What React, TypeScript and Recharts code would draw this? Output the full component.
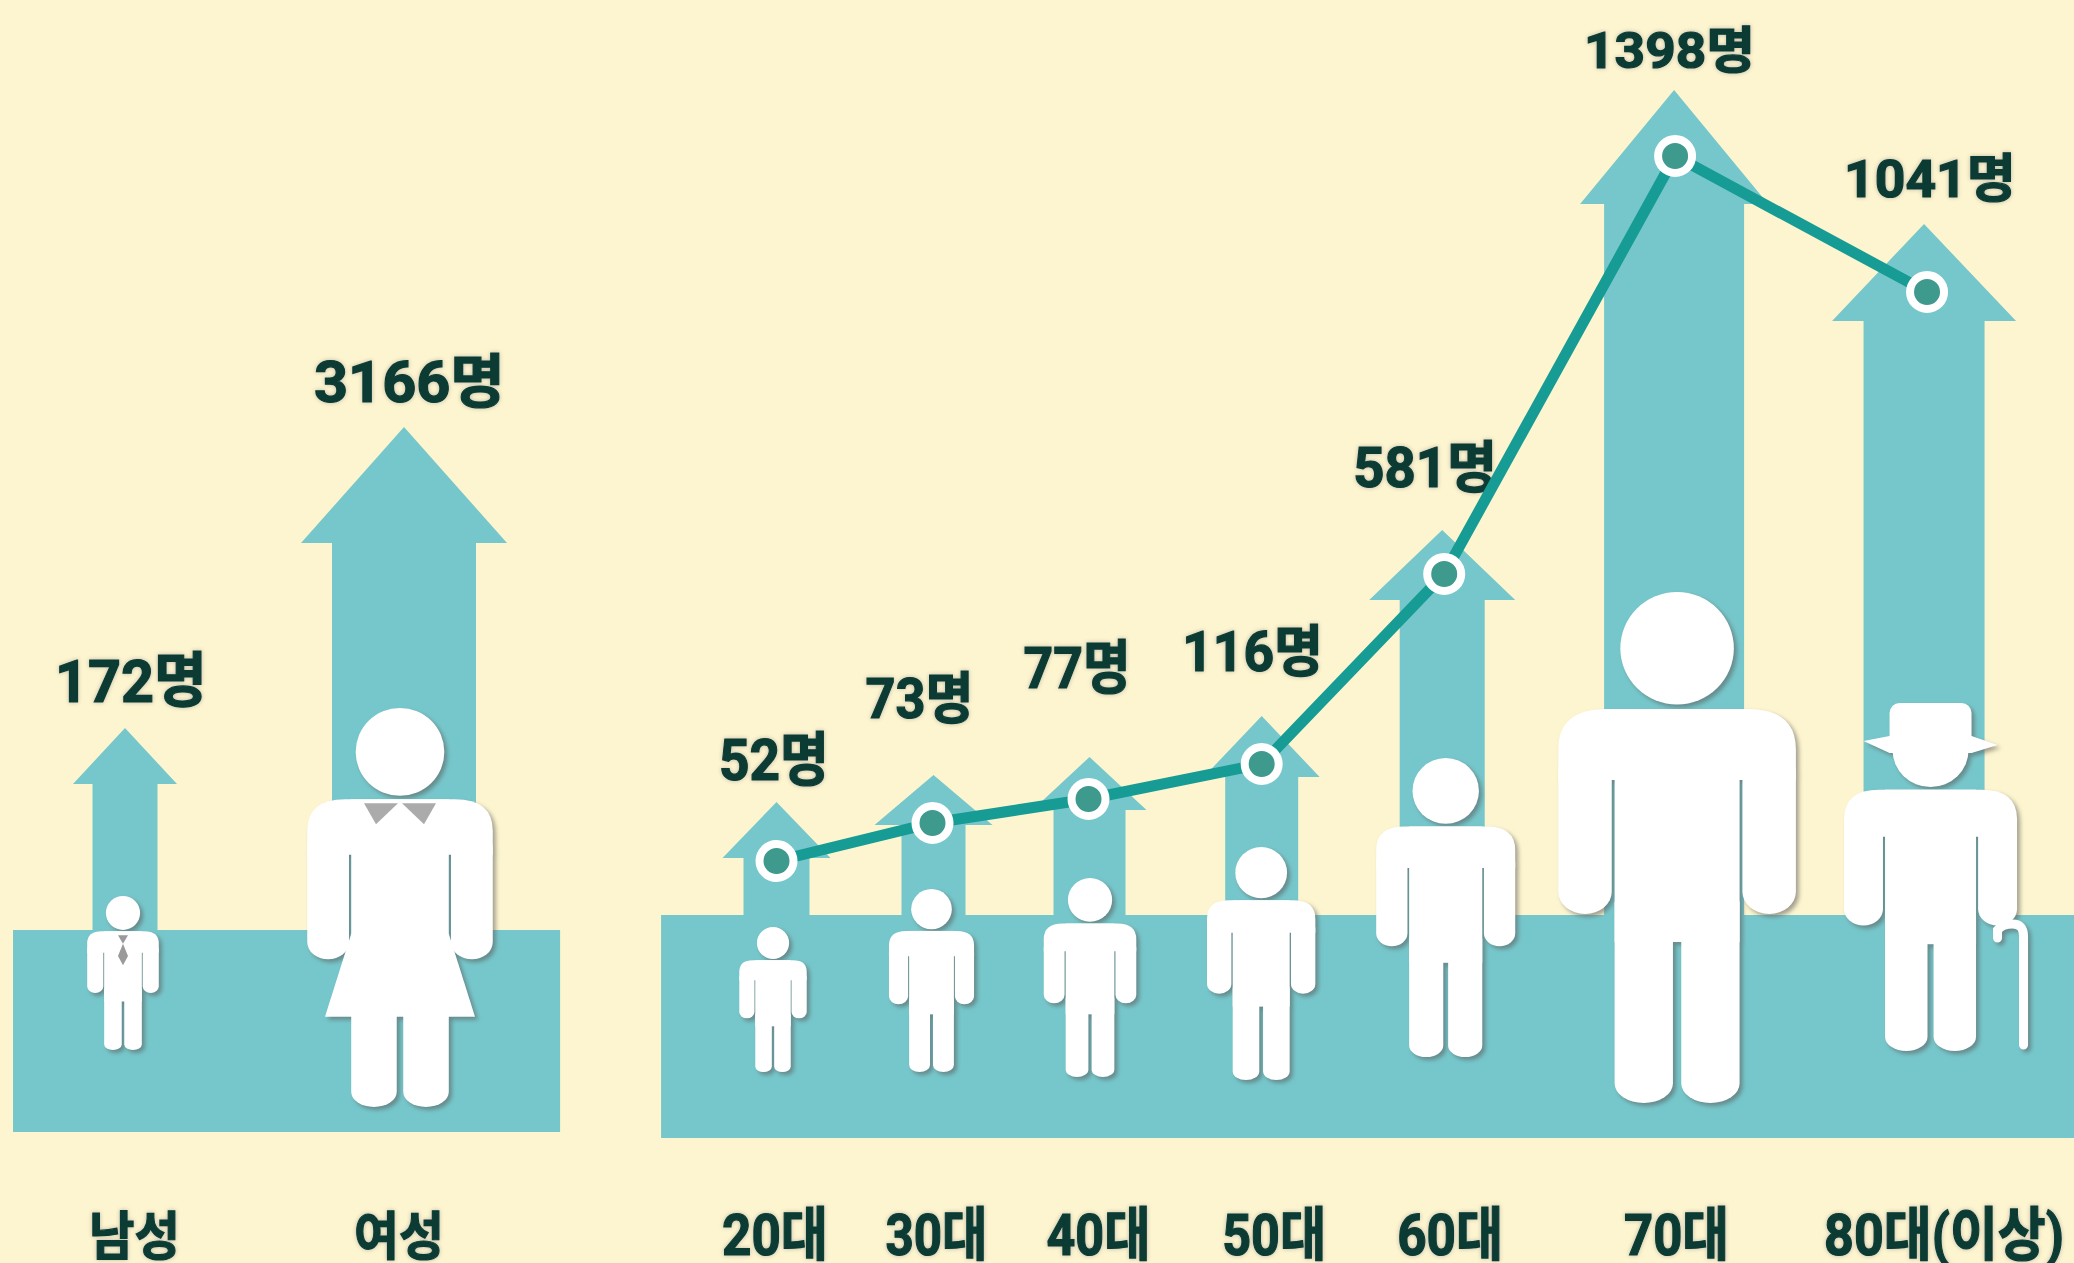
import React from "react";
import { ComposedChart, Line, XAxis, YAxis, ReferenceArea, LabelList } from "recharts";

// gender panel
const genderLabels = ["남성", "여성"];
const genderCounts = [172, 3166];
const genderSlot = [0, 1];
const genderArrowTop = [404, 705];
const genderFigureTop = [236, 424];

// age panel
const ageLabels = ["20대", "30대", "40대", "50대", "60대", "70대", "80대(이상)"];
const ageCounts = [52, 73, 77, 116, 581, 1398, 1041];
const ageSlot = [0, 1, 2, 3.11, 4.28, 5.76, 7.375];
// the pictogram is not drawn to scale, so these are heights read off the picture
const ageArrowTop = [336, 363, 381, 422, 608, 1048, 914];
const ageMarker = [277, 315, 339, 374, 564, 982, 846];
const ageFigureTop = [211, 249, 260, 291, 380, 546, 426];

const genderData = genderLabels.map((label, i) => ({
  label,
  count: genderCounts[i],
  slot: genderSlot[i],
  arrowTop: genderArrowTop[i],
  figureTop: genderFigureTop[i],
}));

const ageData = ageLabels.map((label, i) => ({
  label,
  count: ageCounts[i],
  slot: ageSlot[i],
  arrowTop: ageArrowTop[i],
  marker: ageMarker[i],
  figureTop: ageFigureTop[i],
}));

const BG = "#FDF5CF";
const TEAL = "#76C7CB";
const LINE = "#169C94";
const DOT = "#3F9A8E";
const INK = "#0B3B33";
const FONT = "Roboto, 'Noto Sans CJK KR', sans-serif";
const CHART_HEIGHT = 1263;
const TICK_BASELINE = 1255;
const AGE_AXIS_HEIGHT = 125;
const AGE_X_DOMAIN = [-0.875, 8.317];
const AGE_Y_DOMAIN = [0, 1138];

const GENDER_BAND = 202;
const AGE_BAND = 223;

// drawing styles, one per category
const genderArrowStyle = [
  { dx: 2, depth: 56, head: 52, shaft: 32.5 },
  { dx: 4, depth: 116, head: 103, shaft: 72 },
];
const ageArrowStyle = [
  { dx: 0, depth: 56, head: 54, shaft: 33 },
  { dx: 1, depth: 50, head: 59, shaft: 32 },
  { dx: 1, depth: 53, head: 57, shaft: 36 },
  { dx: 0, depth: 61, head: 58, shaft: 36.5 },
  { dx: -2, depth: 70, head: 73, shaft: 42.5 },
  { dx: -1, depth: 114, head: 94, shaft: 70 },
  { dx: -3, depth: 97, head: 92, shaft: 60.5 },
];

const genderFigureStyle = [
  { dx: 0, h: 154, kind: "man" },
  { dx: 0, h: 399, kind: "woman" },
];
const ageFigureStyle = [
  { dx: -3.5, h: 145, kind: "plain" },
  { dx: -1, h: 183, kind: "plain" },
  { dx: 1.5, h: 199, kind: "plain" },
  { dx: -0.5, h: 233, kind: "plain" },
  { dx: 1.5, h: 299, kind: "plain" },
  { dx: 2, h: 511, kind: "plain" },
  { dx: 3.5, h: 339, w: 173, kind: "elder" },
];

const genderLabelStyle = [
  { dx: 8, dy: -26, w: 152, size: 60 },
  { dx: 9.5, dy: -25, w: 191, size: 58 },
];
const ageLabelStyle = [
  { dx: -2.5, dy: -22, w: 110, size: 58 },
  { dx: -13, dy: -57, w: 108, size: 56 },
  { dx: -11.5, dy: -69, w: 107, size: 58 },
  { dx: -9, dy: -45, w: 141, size: 56 },
  { dx: -19, dy: -43, w: 144, size: 56 },
  { dx: -5.5, dy: -22, w: 171, size: 50 },
  { dx: 3, dy: -27, w: 172, size: 52 },
];

const genderTickStyle = [
  { dx: 11.5, w: 91, size: 52 },
  { dx: -1, w: 90, size: 52 },
];
const ageTickStyle = [
  { dx: -1.5, w: 106, size: 58 },
  { dx: 4, w: 102, size: 58 },
  { dx: 10, w: 104, size: 58 },
  { dx: 12.5, w: 104, size: 58 },
  { dx: 6, w: 106, size: 58 },
  { dx: 1.5, w: 105, size: 58 },
  { dx: 17, w: 240, size: 58 },
];

function FittedText({ x, y, w, size, children }: any) {
  return (
    <text
      x={x - w / 2}
      y={y}
      textLength={w}
      lengthAdjust="spacingAndGlyphs"
      fontFamily={FONT}
      fontWeight={700}
      fontSize={size}
      fill={INK}
      stroke={INK}
      strokeWidth={1.2}
      style={{ filter: "drop-shadow(0 0 2px rgba(110,110,130,0.45))" }}
    >
      {children}
    </text>
  );
}

function Figure({ cx, top, h, w, kind }: any) {
  const W = w ?? h * 0.465;
  const L = cx - W / 2;
  const R = cx + W / 2;
  const bodyTop = top + 0.229 * h;
  const armpit = top + 0.368 * h;
  const armBottom = top + 0.63 * h;
  const crotch = top + 0.685 * h;
  const r = 0.17 * W;
  const aw = 0.225 * W;
  const gap = 0.012 * W;
  const torsoL = L + aw + gap;
  const torsoR = R - aw - gap;
  const legGap = 0.035 * W;
  const legW = (torsoR - torsoL - legGap) / 2;
  const legTop = crotch - legW;
  const headR = 0.11 * h;

  return (
    <g style={{ filter: "drop-shadow(3px 3px 2px rgba(90,90,90,0.55))" }} fill="#fff">
      {kind === "elder" ? (
        <g>
          <ellipse cx={cx} cy={top + 38} rx={38} ry={37} />
          <rect x={cx - 41} y={top - 9} width={82} height={46} rx={10} />
          <polygon
            points={`${cx - 67},${top + 29} ${cx - 41},${top + 24} ${cx + 41},${top + 24} ${cx + 67},${top + 33} ${cx + 41},${top + 41} ${cx - 41},${top + 41}`}
          />
        </g>
      ) : (
        <ellipse cx={cx} cy={top + headR} rx={headR * 1.01} ry={headR} />
      )}
      <path
        d={`M${L} ${armpit} V${bodyTop + r} Q${L} ${bodyTop} ${L + r * 1.2} ${bodyTop} H${R - r * 1.2} Q${R} ${bodyTop} ${R} ${bodyTop + r} V${armpit} H${torsoR} H${torsoL} Z`}
      />
      <rect x={L} y={bodyTop + r} width={aw} height={armBottom - bodyTop - r} rx={aw / 2} ry={aw / 2.4} />
      <rect x={R - aw} y={bodyTop + r} width={aw} height={armBottom - bodyTop - r} rx={aw / 2} ry={aw / 2.4} />
      <rect x={torsoL} y={bodyTop} width={torsoR - torsoL} height={crotch - bodyTop} />
      <rect x={torsoL} y={legTop} width={legW} height={top + h - legTop} rx={legW / 2} ry={legW / 3} />
      <rect x={torsoR - legW} y={legTop} width={legW} height={top + h - legTop} rx={legW / 2} ry={legW / 3} />
      {kind === "woman" && (
        <polygon
          points={`${torsoL},${top + 0.566 * h} ${torsoR},${top + 0.566 * h} ${cx + 0.188 * h},${top + 0.774 * h} ${cx - 0.188 * h},${top + 0.774 * h}`}
        />
      )}
      {kind === "woman" && (
        <g fill="#ABABAB">
          <polygon points={`${cx - 36},${bodyTop + 4} ${cx - 2},${bodyTop + 4} ${cx - 24},${bodyTop + 25}`} />
          <polygon points={`${cx + 2},${bodyTop + 4} ${cx + 36},${bodyTop + 4} ${cx + 24},${bodyTop + 25}`} />
        </g>
      )}
      {kind === "man" && (
        <g fill="#9A9A9A">
          <polygon points={`${cx - 5},${top + 0.255 * h} ${cx + 5},${top + 0.255 * h} ${cx},${top + 0.31 * h}`} />
          <polygon points={`${cx},${top + 0.31 * h} ${cx + 5},${top + 0.39 * h} ${cx},${top + 0.45 * h} ${cx - 5},${top + 0.39 * h}`} />
        </g>
      )}
      {kind === "elder" && (
        <path
          d={`M${cx + 67} ${top + 226} V${top + 218} Q${cx + 72} ${top + 212} ${cx + 82} ${top + 212} Q${cx + 93} ${top + 212} ${cx + 93} ${top + 224} V${top + 333}`}
          fill="none"
          stroke="#fff"
          strokeWidth={9}
          strokeLinecap="round"
        />
      )}
    </g>
  );
}

function arrowDot(styles: any[], bandLevel: number) {
  return (props: any) => {
    const { cx, cy, index, payload } = props;
    const s = styles[index];
    const x = cx + s.dx;
    const floor = cy + (payload.arrowTop - bandLevel);
    const base = cy + s.depth;
    return (
      <polygon
        key={`arrow-${index}`}
        fill={TEAL}
        points={`${x},${cy} ${x + s.head},${base} ${x + s.shaft},${base} ${x + s.shaft},${floor} ${x - s.shaft},${floor} ${x - s.shaft},${base} ${x - s.head},${base}`}
      />
    );
  };
}

function figureDot(styles: any[]) {
  return (props: any) => {
    const { cx, cy, index } = props;
    const s = styles[index];
    return (
      <g key={`figure-${index}`}>
        <Figure cx={cx + s.dx} top={cy} h={s.h} w={s.w} kind={s.kind} />
      </g>
    );
  };
}

function countLabel(styles: any[]) {
  return (props: any) => {
    const { index, value } = props;
    const x = props.x ?? props.viewBox?.x;
    const y = props.y ?? props.viewBox?.y;
    const s = styles[index];
    return (
      <FittedText key={`count-${index}`} x={x + s.dx} y={y + s.dy} w={s.w} size={s.size}>
        {value}명
      </FittedText>
    );
  };
}

function categoryTick(labels: string[], styles: any[]) {
  return (props: any) => {
    const { x, index } = props;
    const s = styles[index];
    return (
      <FittedText x={x + s.dx} y={TICK_BASELINE} w={s.w} size={s.size}>
        {labels[index]}
      </FittedText>
    );
  };
}

function GenderPanel() {
  return (
    <ComposedChart
      width={600}
      height={CHART_HEIGHT}
      data={genderData}
      margin={{ top: 0, right: 0, bottom: 0, left: 0 }}
    >
      <XAxis
        dataKey="slot"
        type="number"
        domain={[-0.444, 1.722]}
        ticks={genderSlot}
        interval={0}
        height={131}
        axisLine={false}
        tickLine={false}
        tick={categoryTick(genderLabels, genderTickStyle)}
      />
      <YAxis hide domain={[0, 1132]} />
      <ReferenceArea x1={-0.397} x2={1.578} y1={0} y2={GENDER_BAND} fill={TEAL} fillOpacity={1} stroke="none" />
      <Line
        dataKey="arrowTop"
        stroke="none"
        isAnimationActive={false}
        activeDot={false}
        dot={arrowDot(genderArrowStyle, GENDER_BAND)}
      >
        <LabelList dataKey="count" content={countLabel(genderLabelStyle)} />
      </Line>
      <Line
        dataKey="figureTop"
        stroke="none"
        isAnimationActive={false}
        activeDot={false}
        dot={figureDot(genderFigureStyle)}
      />
    </ComposedChart>
  );
}

function AgePanel() {
  return (
    <ComposedChart
      width={1434}
      height={CHART_HEIGHT}
      data={ageData}
      margin={{ top: 0, right: 0, bottom: 0, left: 0 }}
    >
      <XAxis
        dataKey="slot"
        type="number"
        domain={AGE_X_DOMAIN}
        ticks={ageSlot}
        interval={0}
        height={AGE_AXIS_HEIGHT}
        axisLine={false}
        tickLine={false}
        tick={categoryTick(ageLabels, ageTickStyle)}
      />
      <YAxis hide domain={AGE_Y_DOMAIN} />
      <ReferenceArea x1={-0.74} x2={8.317} y1={0} y2={AGE_BAND} fill={TEAL} fillOpacity={1} stroke="none" />
      <Line
        dataKey="arrowTop"
        stroke="none"
        isAnimationActive={false}
        activeDot={false}
        dot={arrowDot(ageArrowStyle, AGE_BAND)}
      >
        <LabelList dataKey="count" content={countLabel(ageLabelStyle)} />
      </Line>
      <Line
        dataKey="figureTop"
        stroke="none"
        isAnimationActive={false}
        activeDot={false}
        dot={figureDot(ageFigureStyle)}
      />
    </ComposedChart>
  );
}

// the trend line sits on its own chart so it stays above the arrows
function AgeTrend() {
  return (
    <ComposedChart
      width={1434}
      height={CHART_HEIGHT}
      data={ageData}
      margin={{ top: 0, right: 0, bottom: AGE_AXIS_HEIGHT, left: 0 }}
    >
      <XAxis hide dataKey="slot" type="number" domain={AGE_X_DOMAIN} />
      <YAxis hide domain={AGE_Y_DOMAIN} />
      <Line
        dataKey="marker"
        stroke={LINE}
        strokeWidth={11}
        isAnimationActive={false}
        activeDot={false}
        dot={{ r: 17, fill: DOT, stroke: "#fff", strokeWidth: 8 }}
      />
    </ComposedChart>
  );
}

export default function App() {
  return (
    <div
      style={{
        position: "absolute",
        left: 0,
        top: 0,
        width: 2074,
        height: CHART_HEIGHT,
        background: BG,
        overflow: "hidden",
      }}
    >
      <div style={{ position: "absolute", left: 0, top: 0 }}>
        <GenderPanel />
      </div>
      <div style={{ position: "absolute", left: 640, top: 0 }}>
        <AgePanel />
      </div>
      <div style={{ position: "absolute", left: 640, top: 0 }}>
        <AgeTrend />
      </div>
    </div>
  );
}
